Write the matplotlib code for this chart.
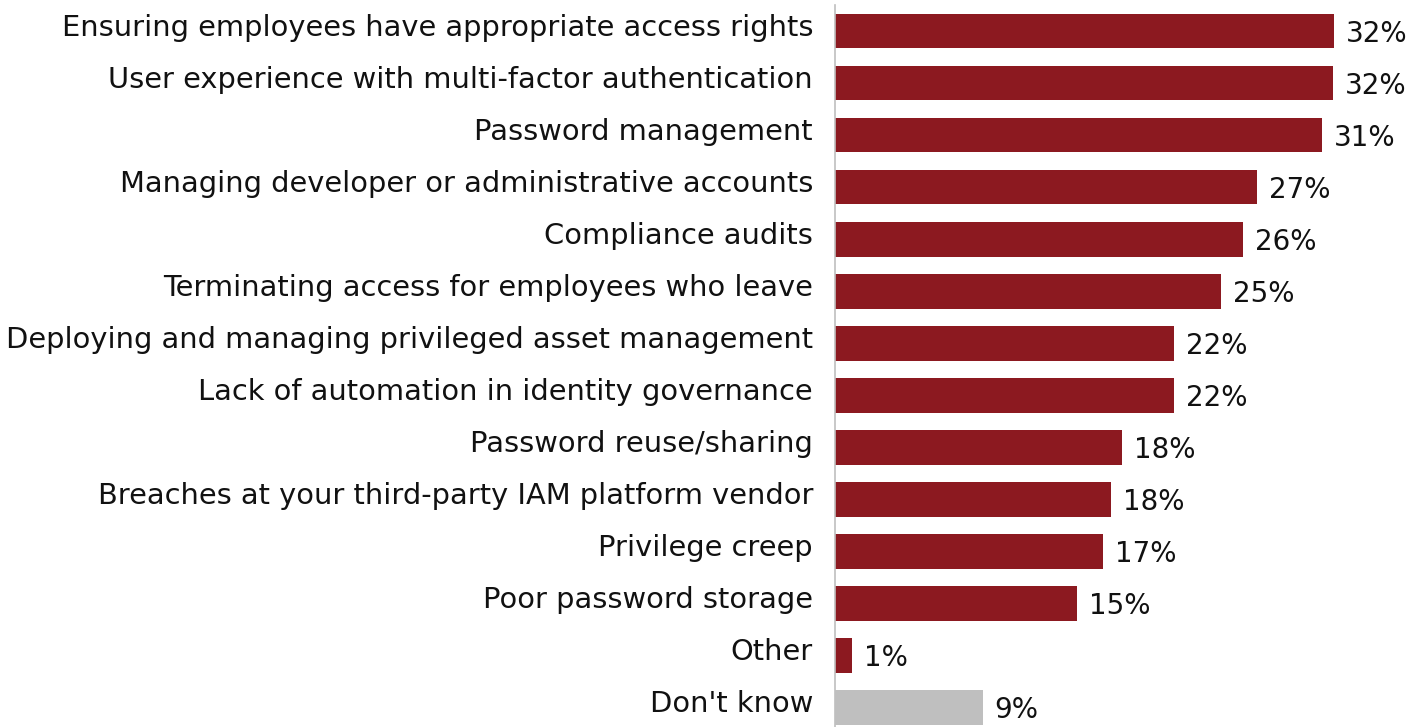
import matplotlib
matplotlib.use("Agg")
import matplotlib.pyplot as plt
import matplotlib.transforms as mtransforms

categories = [
    "Ensuring employees have appropriate access rights",
    "User experience with multi-factor authentication",
    "Password management",
    "Managing developer or administrative accounts",
    "Compliance audits",
    "Terminating access for employees who leave",
    "Deploying and managing privileged asset management",
    "Lack of automation in identity governance",
    "Password reuse/sharing",
    "Breaches at your third-party IAM platform vendor",
    "Privilege creep",
    "Poor password storage",
    "Other",
    "Don't know",
]
values = [31.8, 31.7, 31.0, 26.9, 26.0, 24.6, 21.6, 21.6, 18.3, 17.6, 17.1, 15.4, 1.1, 9.4]
labels = ["32%", "32%", "31%", "27%", "26%", "25%", "22%", "22%", "18%", "18%", "17%", "15%", "1%", "9%"]

red = "#8c1920"
grey = "#bfbfbf"
colors = [red] * 13 + [grey]

plt.rcParams['font.family'] = ['DejaVu Sans']

fig = plt.figure(figsize=(14.11, 7.27), dpi=100)
ax = fig.add_axes([835 / 1411, 0, (1411 - 835) / 1411, (727 - 5) / 727])

y = list(range(len(categories)))
ax.barh(y, values, height=0.67, color=colors)
for yi, v, lab in zip(y, values, labels):
    ax.text(v + 0.75, yi, lab, va='center_baseline', ha='left', fontsize=20, color='#111111')

# category labels: right aligned left of the axis, a bit above bar centre
blend = mtransforms.blended_transform_factory(ax.transAxes, ax.transData)
shift = mtransforms.ScaledTranslation(-22 / 100, 6 / 100, fig.dpi_scale_trans)
for yi, cat in zip(y, categories):
    ax.text(0, yi, cat, transform=blend + shift, ha='right', va='center_baseline',
            fontsize=20.8, color='#111111')

ax.set_xlim(0, (1411 - 835) / 15.7)
ax.set_ylim(13.38, -0.5)
ax.set_yticks([])
ax.set_xticks([])
for s in ['top', 'right', 'bottom']:
    ax.spines[s].set_visible(False)
ax.spines['left'].set_color(grey)
ax.spines['left'].set_linewidth(1.2)

fig.savefig("out.png", dpi=100)
